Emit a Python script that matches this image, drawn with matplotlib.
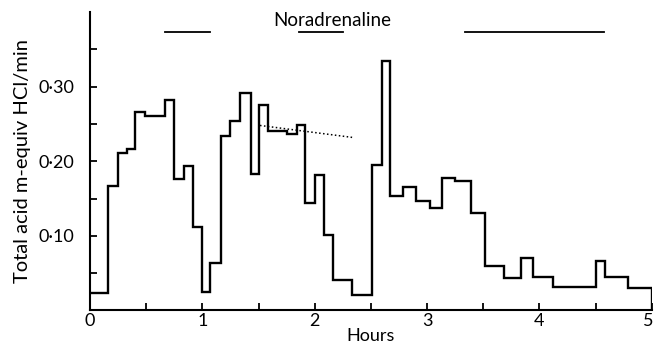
import matplotlib
matplotlib.use("Agg")
import matplotlib.pyplot as plt
import matplotlib.transforms as mtransforms
import numpy as np

# step edges (hours) and acid output for each collection period
edges = [0, 0.157, 0.249, 0.327, 0.40, 0.489, 0.667, 0.75, 0.839, 0.919, 1.0,
         1.072, 1.165, 1.248, 1.337, 1.43, 1.504, 1.586, 1.755, 1.839, 1.913,
         2.002, 2.085, 2.165, 2.334, 2.506, 2.601, 2.669, 2.787, 2.898, 3.028,
         3.129, 3.247, 3.39, 3.52, 3.686, 3.835, 3.944, 4.122, 4.502, 4.585,
         4.786, 5.0]
acid = [0.023, 0.167, 0.211, 0.216, 0.266, 0.261, 0.282, 0.176, 0.193, 0.112,
        0.025, 0.064, 0.234, 0.254, 0.291, 0.183, 0.275, 0.240, 0.237, 0.249,
        0.144, 0.182, 0.101, 0.041, 0.021, 0.195, 0.334, 0.154, 0.165, 0.147,
        0.138, 0.177, 0.173, 0.131, 0.060, 0.043, 0.070, 0.045, 0.031, 0.066,
        0.045, 0.030]

# dotted extrapolation line
trend_x = [1.513, 2.334]
trend_y = [0.248, 0.232]

# noradrenaline infusion periods
infusions = [(0.667, 1.068), (1.862, 2.248), (3.336, 4.576)]

yticks = [0.10, 0.20, 0.30]
ytick_labels = ["0·10", "0·20", "0·30"]
xticks = [0, 1, 2, 3, 4, 5]

plt.rcParams['font.family'] = ['Lato', 'DejaVu Sans']

fig = plt.figure(figsize=(6.54, 3.44), dpi=100)
ax = fig.add_axes([0.1376, 0.0974, 0.859, 0.8676])

# step trace, closed down to the axis at the end
xs = np.repeat(edges, 2)[1:-1]
ys = np.repeat(acid, 2)
xs = np.append(xs, edges[-1])
ys = np.append(ys, 0)
ax.plot(xs, ys, color="black", lw=1.7, solid_joinstyle="miter")

ax.plot(trend_x, trend_y, color="black", lw=1.1, linestyle=(0, (1, 1.6)))

for a, b in infusions:
    ax.plot([a, b], [0.373, 0.373], color="black", lw=1.3, clip_on=False)
ax.text(2.16, 0.389, "Noradrenaline", ha="center", va="center", fontsize=13.5)

ax.set_xlim(0, 5)
ax.set_ylim(0, 0.40)

for s in ["top", "right"]:
    ax.spines[s].set_visible(False)
for s in ["left", "bottom"]:
    ax.spines[s].set_linewidth(1.5)

ax.set_xticks(xticks)
ax.set_xticks([0.5, 1.5, 2.5, 3.5, 4.5], minor=True)
ax.set_yticks(yticks)
ax.set_yticklabels(ytick_labels)
ax.set_yticks([0.05, 0.15, 0.25, 0.35], minor=True)

ax.tick_params(axis="both", which="both", direction="in", length=5, width=1.3,
               labelsize=13)
ax.tick_params(axis="y", which="major", pad=11)
ax.tick_params(axis="x", which="major", pad=2)

# keep the last x label inside the figure edge
last = ax.get_xticklabels()[-1]
last.set_transform(last.get_transform() +
                   mtransforms.ScaledTranslation(-4 / 100, 0, fig.dpi_scale_trans))

ax.set_xlabel("Hours", fontsize=13, labelpad=-1)
ax.set_ylabel("Total acid m-equiv HCl/min", fontsize=14.5, labelpad=6)

fig.savefig("out.png", dpi=100)
